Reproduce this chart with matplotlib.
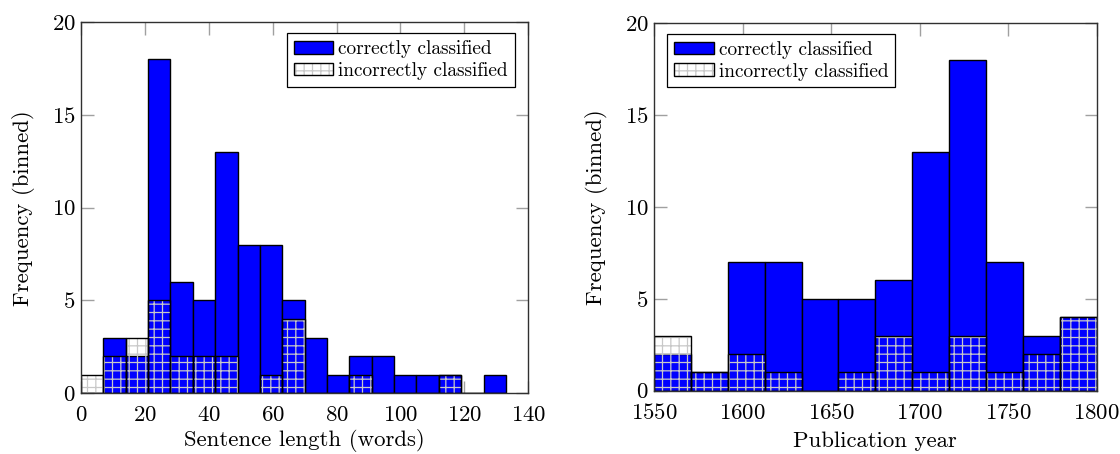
import numpy as np
import matplotlib
matplotlib.use("Agg")
import matplotlib.pyplot as plt
from matplotlib.patches import Patch

plt.rcParams['font.family'] = 'serif'
plt.rcParams['font.serif'] = ['cmr10']
plt.rcParams['mathtext.fontset'] = 'cm'
plt.rcParams['axes.formatter.use_mathtext'] = True
plt.rcParams['hatch.linewidth'] = 0.9

# Left panel: sentence length histogram (bins of 7 words from 0 to 133)
len_edges = list(range(0, 134, 7))
len_correct = [0, 3, 2, 18, 6, 5, 13, 8, 8, 5, 3, 1, 2, 2, 1, 1, 1, 0, 1]
len_incorrect = [1, 2, 3, 5, 2, 2, 2, 0, 1, 4, 0, 0, 1, 0, 0, 0, 1, 0, 0]
len_xticks = [0, 20, 40, 60, 80, 100, 120, 140]

# Right panel: publication year histogram (12 bins from 1550 to 1800)
year_range = (1550, 1800)
year_nbins = 12
year_correct = [2, 1, 7, 7, 5, 5, 6, 13, 18, 7, 3, 4]
year_incorrect = [3, 1, 2, 1, 0, 1, 3, 1, 3, 1, 2, 4]
year_xticks = [1550, 1600, 1650, 1700, 1750, 1800]

yticks = [0, 5, 10, 15, 20]
labels = ['correctly classified', 'incorrectly classified']

BLUE = '#0000ff'
HATCH_C = '#c8c8c8'
FS = 16.4
LFS = 13.9

fig = plt.figure(figsize=(11.2, 4.54), dpi=100)
W, H = 1120, 454
axL = fig.add_axes([81 / W, (H - 393.3) / H, (528.3 - 81) / W, (393.3 - 22) / H])
axR = fig.add_axes([654 / W, (H - 390.7) / H, (1096.7 - 654) / W, (390.7 - 23) / H])


def draw(ax, edges, correct, incorrect):
    edges = np.asarray(edges, dtype=float)
    left = edges[:-1]
    width = np.diff(edges)
    ax.bar(left, correct, width=width, align='edge', color=BLUE,
           edgecolor='black', linewidth=1.0, zorder=2)
    ax.bar(left, incorrect, width=width, align='edge', fill=False,
           hatch='++', edgecolor=HATCH_C, linewidth=0, zorder=3)
    ax.bar(left, incorrect, width=width, align='edge', fill=False,
           edgecolor='black', linewidth=1.0, zorder=4)


def style(ax, xticks, xlabel, xlim, xlabelpad):
    ax.set_xlim(*xlim)
    ax.set_ylim(0, 20)
    ax.set_xticks(xticks)
    ax.set_yticks(yticks)
    ax.tick_params(direction='in', length=9, width=1, color='#a0a0a0',
                   top=True, right=True, labelsize=FS)
    ax.tick_params(axis='x', pad=9)
    ax.tick_params(axis='y', pad=4)
    for s in ax.spines.values():
        s.set_color('#303030')
        s.set_linewidth(1.0)
        s.set_zorder(5)
    ax.set_xlabel(xlabel, fontsize=FS, labelpad=xlabelpad)
    ax.set_ylabel('Frequency (binned)', fontsize=FS, labelpad=12)


draw(axL, len_edges, len_correct, len_incorrect)
style(axL, len_xticks, 'Sentence length (words)', (0, 140), 3)

year_edges = np.linspace(year_range[0], year_range[1], year_nbins + 1)
draw(axR, year_edges, year_correct, year_incorrect)
style(axR, year_xticks, 'Publication year', year_range, 6)

h_correct = Patch(facecolor=BLUE, edgecolor='black', linewidth=1.0)
h_incorrect = (Patch(facecolor='white', edgecolor=HATCH_C, hatch='++', linewidth=0),
               Patch(fill=False, edgecolor='black', linewidth=1.0))

for ax, loc, anchor in [(axL, 'upper right', (0.97, 0.97)),
                        (axR, 'upper left', (0.03, 0.97))]:
    leg = ax.legend([h_correct, h_incorrect], labels, loc=loc,
                    bbox_to_anchor=anchor, fontsize=LFS, fancybox=False,
                    framealpha=1, edgecolor='black', handlelength=2.05,
                    handleheight=0.65, handletextpad=0.28, labelspacing=0.2,
                    borderpad=0.35, borderaxespad=0)
    leg.get_frame().set_linewidth(0.9)
    leg.set_zorder(10)

fig.savefig('out.png', dpi=100)
